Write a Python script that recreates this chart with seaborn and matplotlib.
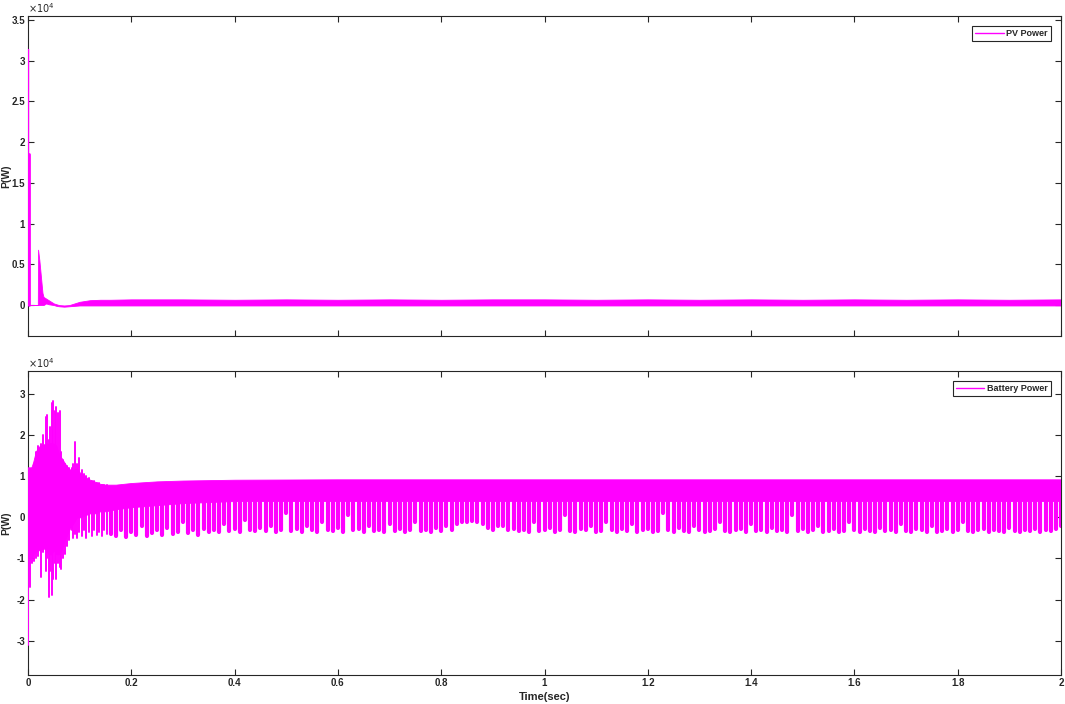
import numpy as np
import pandas as pd
import matplotlib
matplotlib.use("Agg")
import matplotlib.pyplot as plt
from matplotlib.lines import Line2D
import seaborn as sns

# ---------------- data (power values in units of 10^4 W) ----------------
# PV power: solid band (upper / lower edge) after the start-up
PV_T = [0.002, 0.019, 0.0195, 0.022, 0.025, 0.028, 0.030, 0.035, 0.040, 0.045,
        0.050, 0.055, 0.060, 0.070, 0.080, 0.090, 0.100, 0.110, 0.120, 0.140,
        0.160, 0.200, 0.300, 0.400, 0.500, 0.600, 0.700, 0.800, 0.900, 1.000,
        1.100, 1.200, 1.300, 1.400, 1.500, 1.600, 1.700, 1.800, 1.900, 2.000]
PV_HI = [0.0, 0.0, 0.68, 0.55, 0.35, 0.15, 0.10, 0.08, 0.06, 0.04,
         0.02, 0.01, 0.0, -0.005, 0.0, 0.02, 0.04, 0.05, 0.06, 0.065,
         0.065, 0.07, 0.07, 0.065, 0.07, 0.065, 0.07, 0.065, 0.07, 0.07,
         0.065, 0.07, 0.065, 0.07, 0.065, 0.07, 0.065, 0.07, 0.065, 0.07]
PV_LO = [0.0, 0.0, 0.0, 0.0, 0.0, 0.0, 0.0, 0.02, 0.01, 0.005,
         0.0, -0.01, -0.015, -0.02, -0.015, -0.01, -0.005, -0.005, -0.005, -0.005,
         -0.005, -0.005, -0.005, -0.005, -0.005, -0.005, -0.005, -0.005, -0.005, -0.005,
         -0.005, -0.005, -0.005, -0.005, -0.005, -0.005, -0.005, -0.005, -0.005, -0.005]
# PV start-up strokes at t = 0
PV_START_T = [0.0003, 0.0012]
PV_START_LO = [0.0, 0.0]
PV_START_HI = [3.15, 1.85]

# Battery power: solid band
BAT_T = [0.000, 0.003, 0.006, 0.010, 0.015, 0.020, 0.025, 0.030, 0.035, 0.040,
         0.045, 0.050, 0.055, 0.060, 0.065, 0.070, 0.075, 0.080, 0.085, 0.090,
         0.095, 0.100, 0.110, 0.120, 0.130, 0.140, 0.150, 0.170, 0.200, 0.250,
         0.300, 0.400, 0.600, 0.800, 1.000, 1.200, 1.400, 1.600, 1.800, 2.000]
BAT_HI = [0.50, 1.20, 1.20, 1.35, 1.60, 1.72, 1.75, 1.78, 1.80, 1.80,
          1.82, 1.80, 1.75, 1.55, 1.45, 1.35, 1.25, 1.18, 1.15, 1.17,
          1.20, 1.10, 1.00, 0.92, 0.87, 0.82, 0.80, 0.80, 0.84, 0.88,
          0.90, 0.92, 0.93, 0.93, 0.93, 0.93, 0.93, 0.93, 0.93, 0.93]
BAT_LO = [-0.50, -1.00, -1.00, -0.90, -0.85, -0.80, -0.80, -0.75, -0.80, -0.90,
          -0.90, -0.80, -0.90, -0.90, -0.80, -0.60, -0.45, -0.30, -0.20, -0.10,
          0.00, 0.00, 0.05, 0.10, 0.10, 0.15, 0.15, 0.20, 0.25, 0.30,
          0.35, 0.40, 0.40, 0.40, 0.40, 0.40, 0.40, 0.40, 0.40, 0.40]

# Battery transient strokes (vertical excursions)
BAT_TR_T = [0.0005, 0.003, 0.008, 0.012, 0.016, 0.020, 0.025, 0.030, 0.034, 0.036,
            0.040, 0.043, 0.046, 0.048, 0.052, 0.055, 0.058, 0.061, 0.064, 0.068,
            0.072, 0.076, 0.080, 0.085, 0.088, 0.091, 0.095, 0.099, 0.104, 0.108,
            0.113, 0.118, 0.123, 0.128, 0.133, 0.138, 0.143, 0.148, 0.153]
BAT_TR_LO = [-3.10, -1.70, -1.10, -1.05, -1.00, -0.95, -1.45, -0.85, -1.30, -1.00,
             -1.95, -1.30, -1.90, -1.50, -1.10, -1.50, -1.10, -1.20, -1.25, -1.00,
             -0.90, -0.70, -0.55, -0.30, -0.50, -0.40, -0.50, -0.35, -0.45, -0.30,
             -0.50, -0.35, -0.45, -0.30, -0.42, -0.35, -0.45, -0.30, -0.40]
BAT_TR_HI = [1.20, 1.20, 1.20, 1.30, 1.60, 1.75, 1.80, 2.00, 2.45, 2.50,
             1.90, 2.20, 2.80, 2.85, 2.60, 2.70, 2.55, 2.60, 1.60, 1.40,
             1.30, 1.25, 1.20, 1.20, 1.30, 1.83, 1.30, 1.45, 1.15, 1.05,
             1.00, 0.95, 0.90, 0.88, 0.85, 0.83, 0.80, 0.80, 0.80]

# Battery steady-state downward spikes, one every 0.01 s from 0.16 s to 2.00 s
BAT_SPIKE_T0, BAT_SPIKE_DT = 0.16, 0.01
BAT_SPIKE_LO = [
    -0.40, -0.45, -0.30, -0.48, -0.35, -0.42, -0.20, -0.45, -0.38, -0.30,
    -0.42, -0.25, -0.40, -0.35, -0.10, -0.38, -0.30, -0.42, -0.28, -0.35,
    -0.30, -0.35, -0.15, -0.32, -0.28, -0.35, -0.05, -0.30, -0.33, -0.25,
    -0.32, -0.20, -0.35, -0.30, 0.10, -0.33, -0.28, -0.35, -0.22, -0.30,
    -0.35, -0.10, -0.30, -0.33, -0.25, -0.35, 0.05, -0.30, -0.28, -0.35,
    -0.20, -0.33, -0.30, -0.35, -0.15, -0.32, -0.28, -0.35, -0.30, -0.10,
    -0.33, -0.30, -0.35, -0.25, -0.32, -0.20, -0.30, -0.15, -0.10, -0.12,
    -0.08, -0.10, -0.15, -0.25, -0.30, -0.20, -0.22, -0.30, -0.28, -0.32,
    -0.30, -0.35, -0.10, -0.33, -0.30, -0.25, -0.35, -0.30, 0.05, -0.32,
    -0.35, -0.28, -0.30, -0.20, -0.35, -0.33, -0.10, -0.30, -0.35, -0.28,
    -0.33, -0.15, -0.35, -0.30, -0.28, -0.35, -0.32, 0.10, -0.30, -0.35,
    -0.25, -0.33, -0.35, -0.20, -0.30, -0.35, -0.32, -0.28, -0.10, -0.33,
    -0.35, -0.30, -0.28, -0.35, -0.15, -0.33, -0.30, -0.35, -0.25, -0.32,
    -0.30, -0.35, 0.05, -0.33, -0.28, -0.35, -0.30, -0.20, -0.35, -0.32,
    -0.28, -0.35, -0.33, -0.10, -0.30, -0.35, -0.28, -0.32, -0.35, -0.25,
    -0.33, -0.30, -0.35, -0.15, -0.32, -0.35, -0.28, -0.30, -0.35, -0.20,
    -0.35, -0.32, -0.28, -0.35, -0.30, -0.10, -0.33, -0.35, -0.30, -0.28,
    -0.35, -0.30, -0.33, -0.35, -0.25, -0.32, -0.35, -0.30, -0.33, -0.28,
    -0.35, -0.30, -0.32, -0.28, -0.20]
BAT_SPIKE_TOP = 0.60  # spikes reach up into the solid band

X_TICKS = [0, 0.2, 0.4, 0.6, 0.8, 1.0, 1.2, 1.4, 1.6, 1.8, 2.0]
X_TICK_LABELS = ["0", "0.2", "0.4", "0.6", "0.8", "1", "1.2", "1.4", "1.6", "1.8", "2"]
PV_Y_TICKS = [0, 0.5, 1, 1.5, 2, 2.5, 3, 3.5]
PV_Y_LABELS = ["0", "0.5", "1", "1.5", "2", "2.5", "3", "3.5"]
BAT_Y_TICKS = [-3, -2, -1, 0, 1, 2, 3]
BAT_Y_LABELS = ["-3", "-2", "-1", "0", "1", "2", "3"]

# ---------------- styling ----------------
MAGENTA = "#FF00FF"
AX_COL = "#262626"
sns.set_theme(style="ticks")
plt.rcParams["font.family"] = ["Liberation Sans", "DejaVu Sans"]

fig = plt.figure(figsize=(10.65, 7.04), dpi=100)
ax1 = fig.add_axes([28 / 1065, 1 - 336 / 704, 1033 / 1065, 320 / 704])
ax2 = fig.add_axes([28 / 1065, 1 - 675 / 704, 1033 / 1065, 304 / 704])


def strokes_frame(ts, los, his):
    rows = []
    for i, (t, lo, hi) in enumerate(zip(ts, los, his)):
        rows.append({"t": t, "P": lo, "stroke": i})
        rows.append({"t": t, "P": hi, "stroke": i})
    return pd.DataFrame(rows)


# PV panel
ax1.fill_between(PV_T, PV_LO, PV_HI, color=MAGENTA, lw=0.6, edgecolor=MAGENTA)
sns.lineplot(data=strokes_frame(PV_START_T[:1], PV_START_LO[:1], PV_START_HI[:1]),
             x="t", y="P", units="stroke", estimator=None, sort=False,
             color=MAGENTA, lw=1.0, legend=False, ax=ax1, zorder=3)
sns.lineplot(data=strokes_frame(PV_START_T[1:], PV_START_LO[1:], PV_START_HI[1:]),
             x="t", y="P", units="stroke", estimator=None, sort=False,
             color=MAGENTA, lw=2.0, legend=False, ax=ax1, zorder=3)

# Battery panel
ax2.fill_between(BAT_T, BAT_LO, BAT_HI, color=MAGENTA, lw=0.6, edgecolor=MAGENTA)
sns.lineplot(data=strokes_frame(BAT_TR_T, BAT_TR_LO, BAT_TR_HI),
             x="t", y="P", units="stroke", estimator=None, sort=False,
             color=MAGENTA, lw=1.4, legend=False, ax=ax2, zorder=3)
spike_t = [BAT_SPIKE_T0 + BAT_SPIKE_DT * i for i in range(len(BAT_SPIKE_LO))]
sns.lineplot(data=strokes_frame(spike_t, BAT_SPIKE_LO, [BAT_SPIKE_TOP] * len(spike_t)),
             x="t", y="P", units="stroke", estimator=None, sort=False,
             color=MAGENTA, lw=3.0, legend=False, ax=ax2)

tick_font = dict(fontsize=7, fontweight="bold", color=AX_COL)
for ax, yt, yl, ylim, name in [
    (ax1, PV_Y_TICKS, PV_Y_LABELS, (-0.38, 3.55), "PV Power"),
    (ax2, BAT_Y_TICKS, BAT_Y_LABELS, (-3.84, 3.57), "Battery Power"),
]:
    ax.set_xlim(0, 2)
    ax.set_ylim(*ylim)
    ax.set_xticks(X_TICKS)
    ax.set_yticks(yt)
    ax.set_yticklabels(yl, **tick_font)
    ax.tick_params(direction="in", top=True, right=True, length=4, width=0.8,
                   color=AX_COL, pad=2)
    for s in ax.spines.values():
        s.set_color(AX_COL)
        s.set_linewidth(0.8)
    ax.set_ylabel("P(W)", fontsize=7.5, fontweight="bold", color=AX_COL)
    ax.yaxis.set_label_coords(-0.0166, 0.5)
    ax.set_xlabel("")
    ax.text(0.0, 1.004, r"$\times10^{4}$", transform=ax.transAxes,
            fontsize=7, color=AX_COL, ha="left", va="bottom")
    handle = Line2D([], [], color=MAGENTA, lw=1.0)
    leg = ax.legend([handle], [name], loc="upper right", fontsize=6.5,
                    frameon=True, fancybox=False, framealpha=1,
                    handlelength=3.2, handletextpad=0.3, borderpad=0.3,
                    borderaxespad=1.15)
    leg.get_frame().set_edgecolor(AX_COL)
    leg.get_frame().set_linewidth(0.8)
    for txt in leg.get_texts():
        txt.set_fontweight("bold")
        txt.set_color(AX_COL)

ax1.set_xticklabels([])
ax2.set_xticklabels(X_TICK_LABELS, **tick_font)
ax2.set_xlabel("Time(sec)", fontsize=8, fontweight="bold", color=AX_COL, labelpad=3)

fig.savefig("out.png", dpi=100)
